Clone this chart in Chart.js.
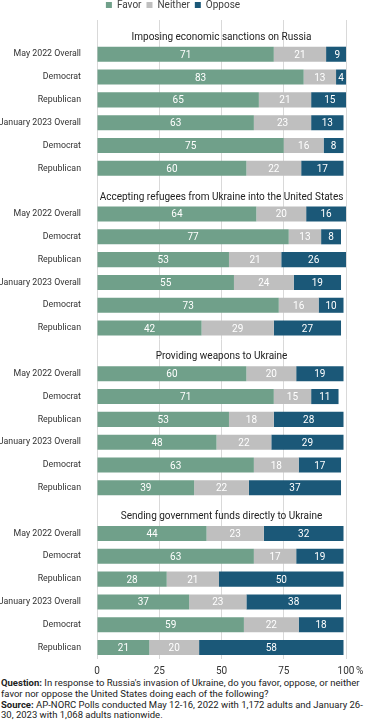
<!DOCTYPE html>
<html>
<head>
<meta charset="utf-8">
<script src="https://cdn.jsdelivr.net/npm/chart.js@4.4.0/dist/chart.umd.min.js"></script>
<style>
  body { margin: 0; background: #fff; width: 365px; overflow: hidden; }
  #wrap { position: relative; width: 365px; height: 690px; margin-top: -5px; }
  #note { font-family: Roboto, sans-serif; font-size: 9.5px; line-height: 10.8px; color: #222; padding-left: 1px; white-space: nowrap; margin-top: -7px; }
  #note b { font-weight: 700; }
</style>
</head>
<body>
<div id="wrap"><canvas id="pollChart"></canvas></div>
<div id="note"><b>Question:</b> In response to Russia's invasion of Ukraine, do you favor, oppose, or neither<br>favor nor oppose the United States doing each of the following?<br><b>Source:</b> AP-NORC Polls conducted May 12-16, 2022 with 1,172 adults and January 26-<br>30, 2023 with 1,068 adults nationwide.</div>
<script>
// Data
const groupTitles = [
    'Imposing economic sanctions on Russia',
    'Accepting refugees from Ukraine into the United States',
    'Providing weapons to Ukraine',
    'Sending government funds directly to Ukraine'
];
const rowLabels = ['May 2022 Overall', 'Democrat', 'Republican', 'January 2023 Overall', 'Democrat', 'Republican'];
const favorValues = [
    [71, 83, 65, 63, 75, 60],
    [64, 77, 53, 55, 73, 42],
    [60, 71, 53, 48, 63, 39],
    [44, 63, 28, 37, 59, 21]
];
const neitherValues = [
    [21, 13, 21, 23, 16, 22],
    [20, 13, 21, 24, 16, 29],
    [20, 15, 18, 22, 18, 22],
    [23, 17, 21, 23, 22, 20]
];
const opposeValues = [
    [9, 4, 15, 13, 8, 17],
    [16, 8, 26, 19, 10, 27],
    [19, 11, 28, 29, 17, 37],
    [32, 19, 50, 38, 18, 58]
];
const xTicks = [0, 25, 50, 75, 100];

// Build rows: one title row (empty label) before each group
const labels = [];
const titleRows = {};
const favor = [], neither = [], oppose = [];
groupTitles.forEach((title, g) => {
    titleRows[labels.length] = title;
    labels.push('');
    favor.push(null); neither.push(null); oppose.push(null);
    rowLabels.forEach((lab, i) => {
        labels.push(lab);
        favor.push(favorValues[g][i]);
        neither.push(neitherValues[g][i]);
        oppose.push(opposeValues[g][i]);
    });
});

Chart.defaults.font.family = 'Roboto, sans-serif';
Chart.defaults.color = '#333';

// Group titles above each block
const groupTitlePlugin = {
    id: 'groupTitles',
    afterDraw(chart) {
        const ctx = chart.ctx;
        const y = chart.scales.y;
        const area = chart.chartArea;
        ctx.save();
        ctx.font = '10px Roboto, sans-serif';
        ctx.fillStyle = '#222';
        ctx.textAlign = 'center';
        ctx.textBaseline = 'middle';
        Object.keys(titleRows).forEach(idx => {
            ctx.fillText(titleRows[idx], (area.left + area.right) / 2, y.getPixelForValue(Number(idx)) + 6);
        });
        // percent sign after last tick
        const x = chart.scales.x;
        ctx.textAlign = 'left';
        ctx.fillStyle = '#333';
        ctx.fillText('%', x.getPixelForValue(100) + 10, x.top + 12);
        ctx.restore();
    }
};

// White value labels inside each segment
const valueLabelPlugin = {
    id: 'valueLabels',
    afterDatasetsDraw(chart) {
        const ctx = chart.ctx;
        ctx.save();
        ctx.font = '10px Roboto, sans-serif';
        ctx.fillStyle = '#fff';
        ctx.textAlign = 'center';
        ctx.textBaseline = 'middle';
        chart.data.datasets.forEach((ds, di) => {
            const meta = chart.getDatasetMeta(di);
            meta.data.forEach((bar, i) => {
                const v = ds.data[i];
                if (v === null) return;
                ctx.fillText(v, (bar.x + bar.base) / 2, bar.y + 1);
            });
        });
        ctx.restore();
    }
};

const ctx = document.getElementById('pollChart').getContext('2d');
new Chart(ctx, {
    type: 'bar',
    data: {
        labels: labels,
        datasets: [
            { label: 'Favor', data: favor, backgroundColor: '#70a08a' },
            { label: 'Neither', data: neither, backgroundColor: '#bfbfbf' },
            { label: 'Oppose', data: oppose, backgroundColor: '#1b5878' }
        ]
    },
    options: {
        indexAxis: 'y',
        responsive: true,
        maintainAspectRatio: false,
        animation: false,
        categoryPercentage: 1,
        barPercentage: 0.66,
        layout: { padding: { top: 0, right: 19, bottom: 2, left: 0 } },
        plugins: {
            legend: {
                position: 'top',
                labels: {
                    boxWidth: 6,
                    boxHeight: 6,
                    padding: 5,
                    color: '#404040',
                    font: { size: 10 }
                }
            },
            tooltip: { enabled: false }
        },
        scales: {
            x: {
                stacked: true,
                min: 0,
                max: 100,
                afterBuildTicks: scale => { scale.ticks = xTicks.map(v => ({ value: v })); },
                grid: { color: '#d9d9d9', drawTicks: false },
                border: { display: false },
                ticks: { padding: 6, font: { size: 10 }, color: '#333' }
            },
            y: {
                stacked: true,
                grid: { display: false },
                border: { display: false },
                afterFit: scale => { scale.width = 97; },
                ticks: { padding: 8, font: { size: 8.8 }, color: '#333', autoSkip: false }
            }
        }
    },
    plugins: [groupTitlePlugin, valueLabelPlugin]
});
</script>
</body>
</html>
